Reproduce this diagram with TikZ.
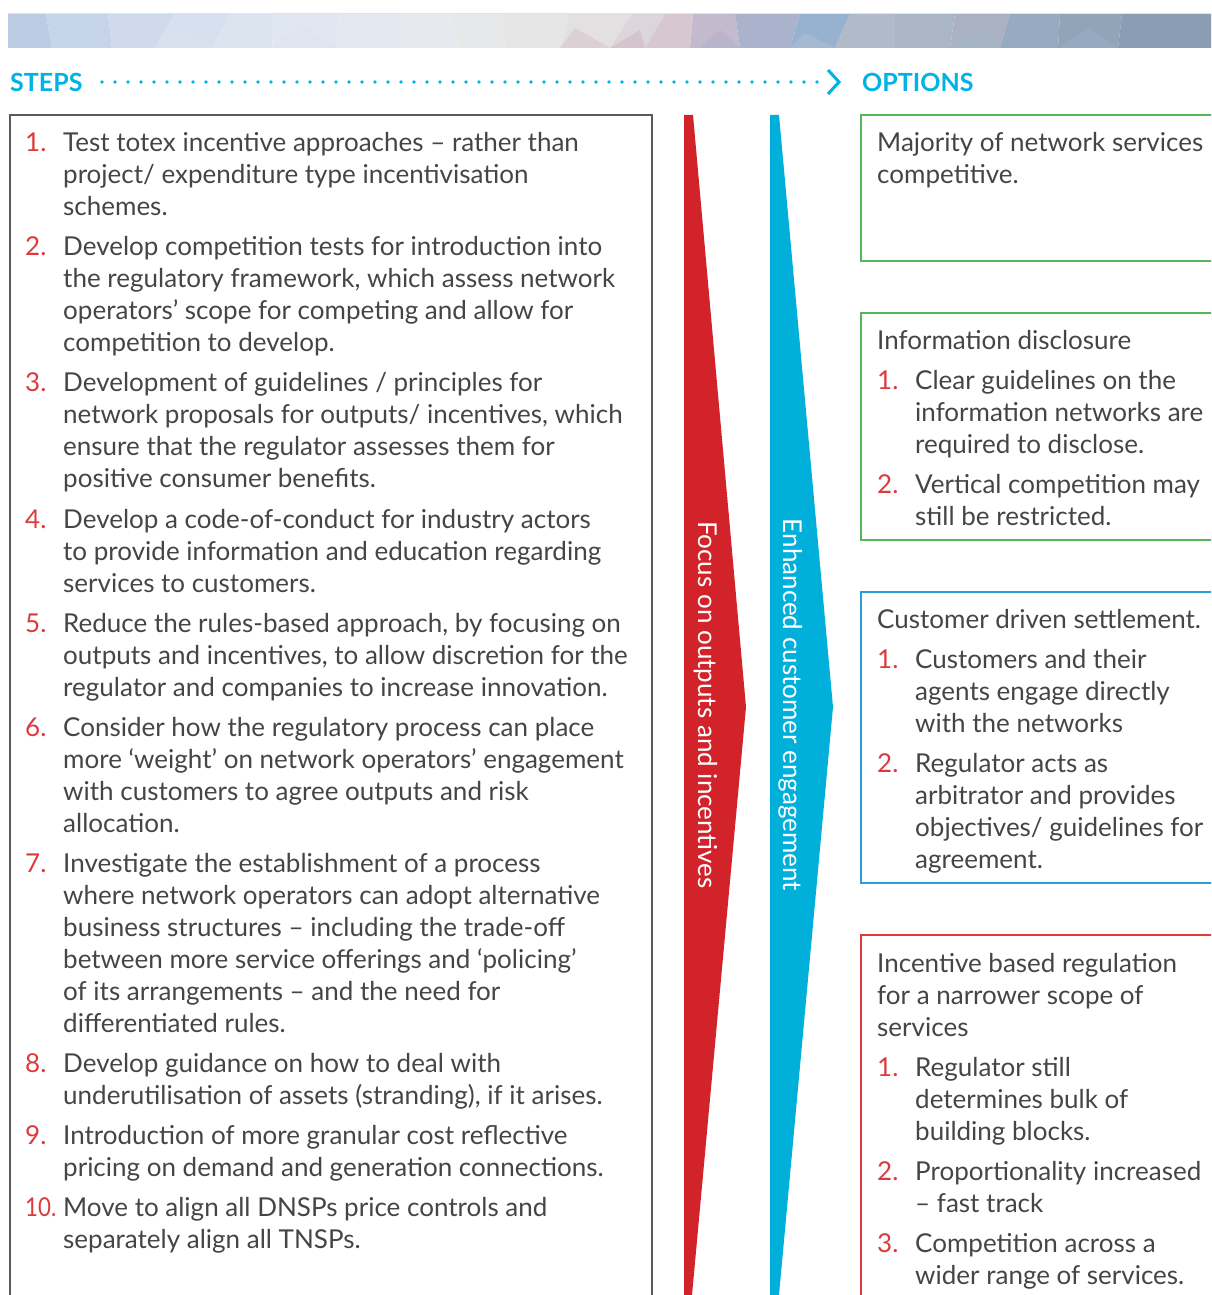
\documentclass[tikz,border=0pt]{standalone}
\usepackage{fontspec}
\setmainfont{Lato}
\usetikzlibrary{arrows.meta}
\definecolor{txtgrey}{HTML}{454545}
\definecolor{numred}{HTML}{DC3A3C}
\definecolor{arrred}{HTML}{D2232A}
\definecolor{arrblue}{HTML}{00B0DB}
\definecolor{hdrcyan}{HTML}{00B2E6}
\definecolor{boxgreen}{HTML}{55B559}
\definecolor{boxblue}{HTML}{2A9FD6}
\definecolor{boxred}{HTML}{DC3C3C}
\definecolor{boxgrey}{HTML}{5A5A5A}
\definecolor{bannerline}{HTML}{E0E4EA}
\begin{document}
\begin{tikzpicture}[x=1pt,y=-1pt,
  txt/.style={anchor=base west,inner sep=0pt,align=left,text=txtgrey,font=\fontsize{26}{32}\selectfont},
  num/.style={anchor=base west,inner sep=0pt,text=numred,font=\fontsize{26}{32}\selectfont},
  hdr/.style={anchor=west,inner sep=0pt,text=hdrcyan,font=\bfseries\fontsize{25}{30}\selectfont},
  vtxt/.style={rotate=-90,inner sep=0pt,text=white,font=\fontsize{26}{30}\selectfont},
  frame/.style={line width=2pt},
  dotline/.style={hdrcyan,line width=3.6pt,line cap=round,dash pattern=on 0pt off 13pt}
]
\useasboundingbox (0,0) rectangle (1211,1295);
\begin{scope}
\clip (0,0) rectangle (1211,1295);
% ---------- banner ----------
\foreach \ta/\tb/\bb/\ba/\col in {
  8/46/52/8/BCCBE2, 46/108/112/52/C5D4E8, 108/175/155/112/CFDBEC,
  175/230/212/155/D6E0EE, 230/274/272/212/DCE4F0, 274/340/336/272/E0E7F0,
  340/400/400/336/E2E8F0, 400/448/460/400/E6EAEE, 448/502/505/460/E6E8EA,
  502/570/560/505/E6E6E6, 570/632/610/560/E2E0E0, 632/665/645/610/DCD6DA,
  665/693/690/645/D6C8CE, 693/735/740/690/C4BACE, 735/800/790/740/ABB2CC,
  800/850/835/790/96B2D0, 850/895/895/835/B0BAC8, 895/955/950/895/AAB6C6,
  955/1010/1000/950/A9B1C2, 1010/1060/1058/1000/97AAC0,
  1060/1122/1118/1058/92A4B8, 1122/1215/1215/1118/8A9DB2}
{
  \definecolor{tmpc}{HTML}{\col}
  \fill[tmpc] (\ta,14) -- (\tb,14) -- (\bb,48) -- (\ba,48) -- cycle;
}
\foreach \xa/\xb/\xc/\yc/\col in {
  155/212/178/30/D9E1EE, 560/610/575/28/DCD0D4, 610/645/640/30/D4C4CC,
  790/835/805/33/A3BAD2, 950/1000/980/26/A4B4C6, 1058/1118/1090/28/95A9C0,
  272/336/300/24/DEE5EF, 700/740/720/30/B8B4CC}
{
  \definecolor{tmpc}{HTML}{\col}
  \fill[tmpc] (\xa,48) -- (\xc,\yc) -- (\xb,48) -- cycle;
}
\draw[line width=1pt, bannerline] (8,14) -- (1215,14);
\end{scope}

% ---------- header ----------
\node[hdr] (steps) at (10,82) {STEPS};
\node[hdr] (options) at (862,82) {OPTIONS};
\coordinate (dotA) at (102,82);
\coordinate (dotB) at (818,82);
\coordinate (chev) at (839,82);
\draw[dotline] (dotA) -- (dotB);
\draw[hdrcyan,line width=3pt,line join=miter] ([shift={(-11,-12)}]chev) -- (chev) -- ([shift={(-11,12)}]chev);

% ---------- frames ----------
\begin{scope}
\clip (0,0) rectangle (1211,1295);
\draw[frame,boxgrey] (10,1300) -- (10,115) -- (652,115) -- (652,1300);
\draw[frame,boxgreen] (1215,115) -- (861,115) -- (861,261) -- (1215,261);
\draw[frame,boxgreen] (1215,313) -- (861,313) -- (861,540) -- (1215,540);
\draw[frame,boxblue] (1215,592) -- (861,592) -- (861,883) -- (1215,883);
\draw[frame,boxred] (1215,935) -- (861,935) -- (861,1300);
\end{scope}

% ---------- arrows ----------
\fill[arrred] (684,115) -- (693,115) -- (746,707) -- (692,1295) -- (684,1295) -- cycle;
\fill[arrblue] (770,115) -- (779,115) -- (833,707) -- (779,1295) -- (770,1295) -- cycle;
\node[vtxt] (focus) at (706,705) {Focus on outputs and incentives};
\node[vtxt] (enh) at (791,705) {Enhanced customer engagement};

% ---------- left steps (node y = baseline of last line) ----------
\node[num] (n1) at (25,151) {1.};
\node[txt] (s1) at (63,215) {Test totex incentive approaches – rather than\\project/ expenditure type incentivisation\\schemes.};
\node[num] (n2) at (25,255) {2.};
\node[txt] (s2) at (63,351) {Develop competition tests for introduction into\\the regulatory framework, which assess network\\operators’ scope for competing and allow for\\competition to develop.};
\node[num] (n3) at (25,391) {3.};
\node[txt] (s3) at (63,487) {Development of guidelines / principles for\\network proposals for outputs/ incentives, which\\ensure that the regulator assesses them for\\positive consumer benefits.};
\node[num] (n4) at (25,528) {4.};
\node[txt] (s4) at (63,592) {Develop a code-of-conduct for industry actors\\to provide information and education regarding\\services to customers.};
\node[num] (n5) at (25,632) {5.};
\node[txt] (s5) at (63,696) {Reduce the rules-based approach, by focusing on\\outputs and incentives, to allow discretion for the\\regulator and companies to increase innovation.};
\node[num] (n6) at (25,736) {6.};
\node[txt] (s6) at (63,832) {Consider how the regulatory process can place\\more ‘weight’ on network operators’ engagement\\with customers to agree outputs and risk\\allocation.};
\node[num] (n7) at (25,872) {7.};
\node[txt] (s7) at (63,1032) {Investigate the establishment of a process\\where network operators can adopt alternative\\business structures – including the trade-off\\between more service offerings and ‘policing’\\of its arrangements – and the need for\\differentiated rules.};
\node[num] (n8) at (25,1072) {8.};
\node[txt] (s8) at (63,1104) {Develop guidance on how to deal with\\underutilisation of assets (stranding), if it arises.};
\node[num] (n9) at (25,1144) {9.};
\node[txt] (s9) at (63,1176) {Introduction of more granular cost reflective\\pricing on demand and generation connections.};
\node[num] (n10) at (25,1216) {\scalebox{0.86}[1]{10.}};
\node[txt] (s10) at (63,1248) {Move to align all DNSPs price controls and\\separately align all TNSPs.};

% ---------- right options ----------
\node[txt] (o1) at (877,183) {Majority of network services\\competitive.};

\node[txt] (o2) at (877,349) {Information disclosure};
\node[num] (o2n1) at (877,389) {1.};
\node[txt] (o2t1) at (915,453) {Clear guidelines on the\\information networks are\\required to disclose.};
\node[num] (o2n2) at (877,493) {2.};
\node[txt] (o2t2) at (915,525) {Vertical competition may\\still be restricted.};

\node[txt] (o3) at (877,628) {Customer driven settlement.};
\node[num] (o3n1) at (877,668) {1.};
\node[txt] (o3t1) at (915,732) {Customers and their\\agents engage directly\\with the networks};
\node[num] (o3n2) at (877,772) {2.};
\node[txt] (o3t2) at (915,868) {Regulator acts as\\arbitrator and provides\\objectives/ guidelines for\\agreement.};

\node[txt] (o4) at (877,1036) {Incentive based regulation\\for a narrower scope of\\services};
\node[num] (o4n1) at (877,1076) {1.};
\node[txt] (o4t1) at (915,1140) {Regulator still\\determines bulk of\\building blocks.};
\node[num] (o4n2) at (877,1180) {2.};
\node[txt] (o4t2) at (915,1212) {Proportionality increased\\– fast track};
\node[num] (o4n3) at (877,1252) {3.};
\node[txt] (o4t3) at (915,1284) {Competition across a\\wider range of services.};
\end{tikzpicture}
\end{document}
